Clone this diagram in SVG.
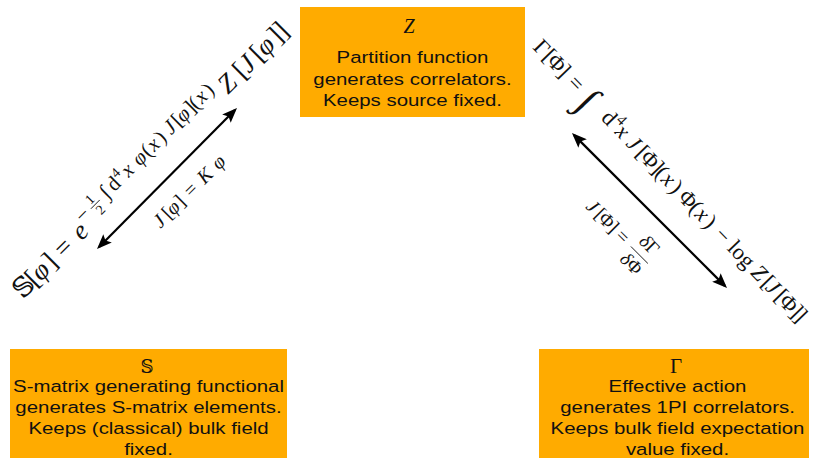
<svg xmlns="http://www.w3.org/2000/svg" width="814" height="458" viewBox="0 0 814 458">
<style>
.box{fill:#ffab00}
.lbl{font-family:"Liberation Sans",Arial,Helvetica,sans-serif;font-size:17px;fill:#111;text-anchor:middle}
.m{font-family:"Liberation Serif","DejaVu Serif",serif;fill:#111}
.i{font-style:italic}
.conn{stroke:#000;stroke-width:2.2;fill:none;marker-start:url(#ah);marker-end:url(#ah)}
.bar{stroke:#111;stroke-width:0.9}
</style>
<defs>
<marker id="ah" viewBox="0 0 15 12" refX="12" refY="6" markerWidth="15" markerHeight="12" markerUnits="userSpaceOnUse" orient="auto-start-reverse">
<path d="M0,0 L15,6 L0,12 L3,6 z" fill="#000"/>
</marker>
</defs>

<g id="node-Z">
<rect class="box" x="300" y="7" width="225" height="110"/>
<text class="m i" x="409" y="33" font-size="20" text-anchor="middle">Z</text>
<text class="lbl" transform="translate(412.5 63) scale(1.2 1)">Partition function</text>
<text class="lbl" transform="translate(412.5 84.5) scale(1.2 1)">generates correlators.</text>
<text class="lbl" transform="translate(412.5 105.5) scale(1.2 1)">Keeps source fixed.</text>
</g>

<g id="node-S">
<rect class="box" x="10" y="349" width="277" height="115"/>
<text class="m" x="147" y="373" font-size="18" text-anchor="middle">𝕊</text>
<text class="lbl" transform="translate(148.5 392) scale(1.2 1)">S-matrix generating functional</text>
<text class="lbl" transform="translate(148.5 413) scale(1.2 1)">generates S-matrix elements.</text>
<text class="lbl" transform="translate(148.5 434) scale(1.2 1)">Keeps (classical) bulk field</text>
<text class="lbl" transform="translate(148.5 455) scale(1.2 1)">fixed.</text>
</g>

<g id="node-Gamma">
<rect class="box" x="539" y="349" width="270" height="115"/>
<text class="m" x="676" y="373" font-size="21" text-anchor="middle">Γ</text>
<text class="lbl" transform="translate(677.5 392) scale(1.2 1)">Effective action</text>
<text class="lbl" transform="translate(677.5 413) scale(1.2 1)">generates 1PI correlators.</text>
<text class="lbl" transform="translate(677.5 434) scale(1.2 1)">Keeps bulk field expectation</text>
<text class="lbl" transform="translate(677.5 455) scale(1.2 1)">value fixed.</text>
</g>

<g id="formula-S" transform="translate(23 300) rotate(-45)">
<text class="m" font-size="27"><tspan x="0">𝕊</tspan><tspan x="17.5">[</tspan><tspan x="25.5" class="i">φ</tspan><tspan x="42">]</tspan><tspan x="58">=</tspan><tspan x="83" class="i">e</tspan><tspan x="290" class="i">Z</tspan><tspan x="311">[</tspan><tspan x="319.5" class="i">J</tspan><tspan x="335.5">[</tspan><tspan x="343.5" class="i">φ</tspan><tspan x="361">]</tspan><tspan x="369">]</tspan></text>
<text class="m" font-size="21" y="-11.5"><tspan x="96.5">−</tspan><tspan x="131">∫</tspan><tspan x="141">d</tspan><tspan x="161" class="i">x</tspan><tspan x="177" class="i">φ</tspan><tspan x="189.5">(</tspan><tspan x="197.5" class="i">x</tspan><tspan x="209">)</tspan><tspan x="221" class="i">J</tspan><tspan x="232.5">[</tspan><tspan x="238.5" class="i">φ</tspan><tspan x="251">]</tspan><tspan x="257">(</tspan><tspan x="265" class="i">x</tspan><tspan x="276.5">)</tspan></text>
<text class="m" font-size="14"><tspan x="115" y="-19.5">1</tspan><tspan x="115" y="-4.5">2</tspan><tspan x="152" y="-20">4</tspan></text>
<line class="bar" x1="112.5" y1="-16.5" x2="125" y2="-16.5"/>
</g>

<g id="formula-Gamma" transform="translate(532 48) rotate(46)">
<text class="m" font-size="22.5"><tspan x="0">Γ</tspan><tspan x="13.6">[</tspan><tspan x="19.7">Φ</tspan><tspan x="35.4">]</tspan><tspan x="49.6">=</tspan><tspan x="98.2">d</tspan><tspan x="117.9" class="i">x</tspan><tspan x="134" class="i">J</tspan><tspan x="147.8">[</tspan><tspan x="153.9">Φ</tspan><tspan x="169.6">]</tspan><tspan x="175.7">(</tspan><tspan x="184.2" class="i">x</tspan><tspan x="196.7">)</tspan><tspan x="208.8">Φ</tspan><tspan x="224.5">(</tspan><tspan x="233" class="i">x</tspan><tspan x="245.5">)</tspan><tspan x="261">−</tspan><tspan x="279.5">log</tspan><tspan x="313.5" class="i">Z</tspan><tspan x="328.5">[</tspan><tspan x="334.5" class="i">J</tspan><tspan x="347.7">[</tspan><tspan x="353.8">Φ</tspan><tspan x="369.5">]</tspan><tspan x="375.6">]</tspan></text>
<text class="m" font-size="40" x="71" y="9">∫</text>
<text class="m" font-size="15.5" x="110.3" y="-9.5">4</text>
</g>

<g id="connectors">
<line class="conn" x1="99.1" y1="246.9" x2="234.9" y2="110.1"/>
<line class="conn" x1="574.1" y1="135.1" x2="724.9" y2="285.9"/>
</g>

<g id="label-left" transform="translate(191.7 190.8) rotate(-45)">
<text class="m" font-size="20" y="5"><tspan x="-49" class="i">J</tspan><tspan x="-36.3">[</tspan><tspan x="-30.8" class="i">φ</tspan><tspan x="-18.9">]</tspan><tspan x="-5.6">=</tspan><tspan x="13.3" class="i">K</tspan><tspan x="33.6" class="i">φ</tspan></text>
</g>

<g id="label-right" transform="translate(621.7 237.3) rotate(45)">
<text class="m" font-size="19.5" y="5"><tspan x="-47" class="i">J</tspan><tspan x="-35">[</tspan><tspan x="-29.7">Φ</tspan><tspan x="-16">]</tspan><tspan x="-5.5">=</tspan></text>
<text class="m" font-size="19"><tspan x="15" y="-8" class="i">δ</tspan><tspan>Γ</tspan><tspan x="14" y="18" class="i">δ</tspan><tspan>Φ</tspan></text>
<line class="bar" x1="13" y1="0" x2="37" y2="0"/>
</g>
</svg>
